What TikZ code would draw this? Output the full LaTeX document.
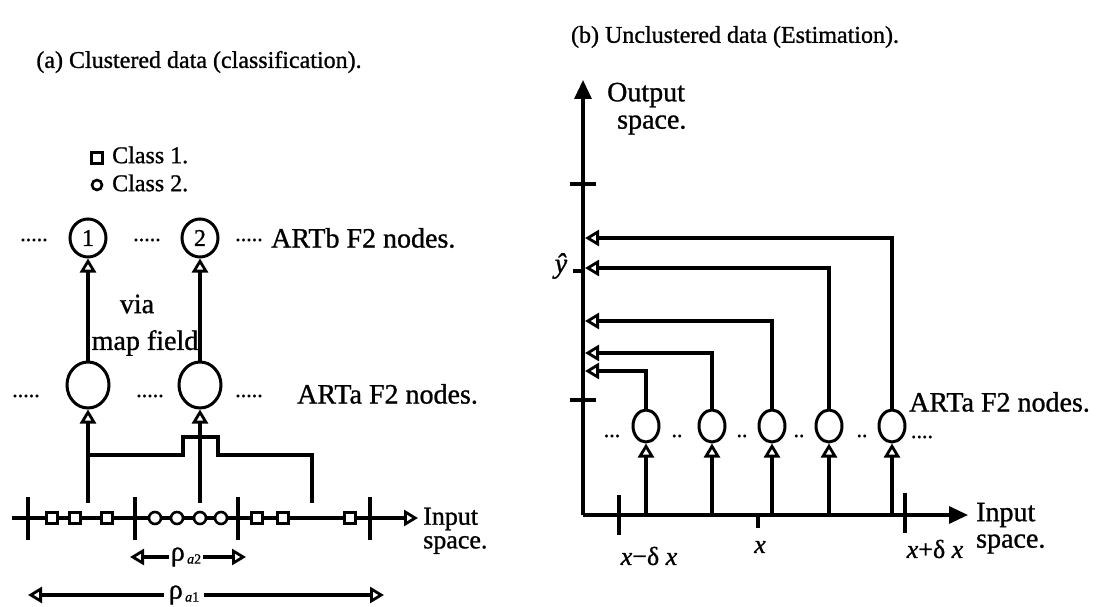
\documentclass[tikz,border=0pt]{standalone}
\usepackage{fontspec}
\setmainfont{Liberation Serif}[FakeBold=1.0]
\usetikzlibrary{arrows.meta,shapes.geometric}
\begin{document}
\begin{tikzpicture}[x=1pt,y=-1pt,
  ln/.style={line width=3.2pt},
  txt/.style={font=\fontsize{24}{26}\selectfont, inner sep=0pt},
  big/.style={font=\fontsize{28}{30}\selectfont, inner sep=0pt},
  dots/.style={font=\fontsize{22}{24}\selectfont, inner sep=0pt},
  opentip/.style={-{Triangle[open,length=14pt,width=16pt,line width=2.8pt]}},
  filltip/.style={-{Triangle[length=19pt,width=17pt]}},
  bnode/.style={ellipse, draw, line width=3pt, inner sep=0pt, minimum width=36pt, minimum height=38pt, font=\fontsize{24}{26}\selectfont},
  anode/.style={ellipse, draw, line width=3pt, inner sep=0pt, minimum width=42pt, minimum height=46pt},
  snode/.style={ellipse, draw, line width=3pt, inner sep=0pt, minimum width=26pt, minimum height=32pt},
  sq/.style={rectangle, draw, fill=white, line width=2.6pt, inner sep=0pt, minimum size=11pt},
  dot/.style={circle, draw, fill=white, line width=2.6pt, inner sep=0pt, minimum size=12pt},
  tick/.style={line width=3.2pt}
]
\useasboundingbox (0,0) rectangle (1104,607);

% ---------- titles ----------
\node[txt] (ta) at (199,62) {(a) Clustered data (classification).};
\node[txt] (tb) at (735,37) {(b) Unclustered data (Estimation).};

% ---------- (a) legend ----------
\node[sq] (lg1) at (97,158) {};
\node[txt, anchor=west] (lt1) at (112,155) {Class 1.};
\node[dot, minimum size=10pt] (lg2) at (97,185) {};
\node[txt, anchor=west] (lt2) at (112,183) {Class 2.};

% ---------- (a) ARTb F2 layer ----------
\node[bnode] (b1) at (88,238) {1};
\node[bnode] (b2) at (200,238) {2};
\node[dots] (bd0) at (34,240) {.....};
\node[dots] (bd1) at (147,240) {.....};
\node[dots] (bd2) at (249,240) {.....};
\node[big, anchor=west] (bl) at (271,238) {ARTb F2 nodes.};

% ---------- (a) ARTa F2 layer ----------
\node[anode] (a1) at (88,385) {};
\node[anode] (a2) at (200,385) {};
\node[dots] (ad0) at (26,396) {.....};
\node[dots] (ad1) at (150,396) {.....};
\node[dots] (ad2) at (249,396) {.....};
\node[big, anchor=west] (al) at (297,394) {ARTa F2 nodes.};

\node[big] (via) at (137,304) {via};
\node[big] (mf) at (145,343) {map field};

\draw[ln, opentip] (a1) -- (b1);
\draw[ln, opentip] (a2) -- (b2);

% ---------- (a) input connections ----------
\coordinate (p1) at (88,503);
\coordinate (p2) at (200,503);
\coordinate (p3) at (312,503);
\coordinate (j1) at (88,455);
\coordinate (j2) at (183,455);
\coordinate (j3) at (183,437);
\coordinate (j4) at (218,437);
\coordinate (j5) at (218,455);
\coordinate (j6) at (312,455);
\draw[ln, opentip] (p1) -- (a1);
\draw[ln, opentip] (p2) -- (a2);
\draw[ln] (j1) -- (j2) -- (j3) -- (j4) -- (j5) -- (j6) -- (p3);

% ---------- (a) input axis ----------
\coordinate (axL) at (12,518);
\coordinate (axR) at (418,518);
\draw[ln, opentip] (axL) -- (axR);
\foreach \x in {28,135,238,370} \draw[tick] (\x,497) -- (\x,540);
\foreach \x/\n in {52/s1,75/s2,107/s3,257/s4,283/s5,350/s6} \node[sq] (\n) at (\x,518) {};
\foreach \x/\n in {155/c1,177/c2,200/c3,221/c4} \node[dot] (\n) at (\x,518) {};
\node[big, font=\fontsize{26}{28}\selectfont, anchor=west] (inA1) at (423,519) {Input};
\node[big, font=\fontsize{26}{28}\selectfont, anchor=west] (inA2) at (423,545) {space.};

% ---------- (a) radii ----------
\node[big, fill=white, inner xsep=2pt] (r2) at (186,557) {ρ\raisebox{-3pt}{\fontsize{14}{14}\selectfont\,\textit{a}2}};
\coordinate (r2L) at (130,557);
\coordinate (r2R) at (246,557);
\draw[ln, opentip] (r2.west) -- (r2L);
\draw[ln, opentip] (r2.east) -- (r2R);
\node[big, fill=white, inner xsep=5pt] (r1) at (184,595) {ρ\raisebox{-3pt}{\fontsize{14}{14}\selectfont\,\textit{a}1}};
\coordinate (r1L) at (28,595);
\coordinate (r1R) at (384,595);
\draw[ln, opentip] (r1.west) -- (r1L);
\draw[ln, opentip] (r1.east) -- (r1R);

% ---------- (b) axes ----------
\coordinate (O) at (583,515);
\coordinate (Ytop) at (583,80);
\coordinate (Xend) at (968,515);
\draw[ln, filltip] (O) -- (Ytop);
\draw[ln, filltip] (O) -- (Xend);
\node[big, anchor=west] (out1) at (607,95) {Output};
\node[big, anchor=west] (out2) at (617,125) {space.};
\node[big, anchor=west] (in1) at (976,515) {Input};
\node[big, anchor=west] (in2) at (976,544) {space.};

% y ticks
\draw[tick] (570,184) -- (596,184);
\draw[tick] (573,271) -- (583,271);
\draw[tick] (570,400) -- (596,400);
\node[big] (yh) at (561,266) {\textit{ŷ}};

% x ticks
\draw[tick] (619,495) -- (619,535);
\draw[tick] (758,515) -- (758,528);
\draw[tick] (905,493) -- (905,533);
\node[big, font=\fontsize{26}{28}\selectfont] (xl) at (649,556) {\textit{x}−δ \textit{x}};
\node[big, font=\fontsize{26}{28}\selectfont] (xm) at (760,547) {\textit{x}};
\node[big, font=\fontsize{26}{28}\selectfont] (xr) at (935,549) {\textit{x}+δ \textit{x}};

% ---------- (b) ARTa F2 nodes ----------
\foreach \x/\n in {646/n1,712/n2,772/n3,829/n4,892/n5} {
  \node[snode] (\n) at (\x,426) {};
  \coordinate (\n b) at (\x,515);
  \draw[ln, opentip] (\n b) -- (\n);
}
\node[dots] (nd0) at (612,436) {...};
\node[dots] (nd1) at (677,436) {..};
\node[dots] (nd2) at (742,436) {..};
\node[dots] (nd3) at (799,436) {..};
\node[dots] (nd4) at (862,436) {..};
\node[dots] (nd5) at (922,437) {....};
\node[big, anchor=west] (bl2) at (909,402) {ARTa F2 nodes.};

% feedback to the output axis
\foreach \n/\y in {n1/371,n2/353,n3/321,n4/268,n5/238} {
  \coordinate (\n y) at (585,\y);
  \draw[ln, opentip] (\n.north) |- (\n y);
}
\end{tikzpicture}
\end{document}
